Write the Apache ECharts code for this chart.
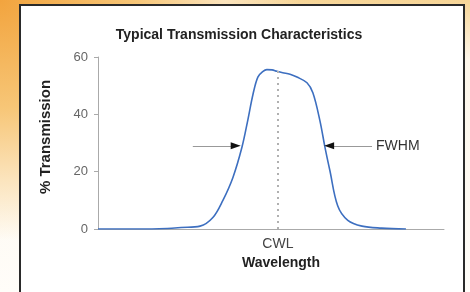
<!DOCTYPE html>
<html>
<head>
<meta charset="utf-8">
<script src="https://cdn.jsdelivr.net/npm/echarts@6/dist/echarts.min.js"></script>
<style>
  html, body { margin: 0; padding: 0; }
  body {
    width: 470px; height: 292px; overflow: hidden; position: relative;
    background:
      radial-gradient(ellipse 300px 240px at 0 0, #f2a43e 0%, #f7c677 45%, #fbe4bd 75%, rgba(255,250,242,0) 100%),
      linear-gradient(to bottom, #f7d596 0px, #fdf6ea 60px, #fffdf9 292px);
  }
  .box {
    position: absolute; left: 19px; top: 4px; width: 446px; height: 300px;
    background: #fff; border: 2px solid #2a2a2a; box-sizing: border-box;
  }
  #chart { position: absolute; left: 0; top: 0; width: 470px; height: 292px; }
</style>
</head>
<body>
<div class="box"></div>
<div id="chart"></div>
<script>
// wavelength offset from CWL (arbitrary units) and % transmission
const wavelength = [-52, -40, -32, -28, -22.5, -18.8, -15.9, -13, -10.4, -8.7, -7.2, -5.8, -4.3, -3.2, -1.7, -0.3, 1.4, 3.5, 5.5, 8.4, 10.1, 12.1, 13.6, 15, 17.3, 20.2, 24.3, 30, 37];
const transmission = [0, 0, 0.2, 0.5, 1, 4, 10, 18, 28.5, 38, 47, 53, 55, 55.6, 55.5, 55, 54.5, 54, 53, 51, 47.5, 38, 28.5, 20.5, 8, 3, 1, 0.3, 0];
const yTicks = [0, 20, 40, 60];
const cwl = 0;
const cwlPeak = 55.2;
const fwhmLevel = 29;
const leftArrow = [-24.6, -10.7];
const rightArrow = [27.2, 13.3];

const font = '"Liberation Sans", Arial, sans-serif';
const chart = echarts.init(document.getElementById('chart'));

const dotted = { color: '#b0b0b0', width: 2, type: [2, 4] };
const arrowLine = { color: '#999', width: 1, type: 'solid' };

chart.setOption({
  backgroundColor: 'transparent',
  animation: false,
  title: {
    text: 'Typical Transmission Characteristics',
    left: 234,
    textAlign: 'center',
    top: 23,
    textStyle: { fontFamily: font, fontSize: 14, fontWeight: 'bold', color: '#222' }
  },
  grid: { left: 98, right: 26, top: 57, bottom: 63 },
  xAxis: {
    type: 'value',
    min: -52,
    max: 48,
    splitLine: { show: false },
    axisLine: { onZero: false, lineStyle: { color: '#aaa', width: 1 } },
    axisTick: { show: false },
    axisLabel: {
      customValues: [cwl],
      formatter: () => 'CWL',
      margin: 8,
      fontFamily: font, fontSize: 14, color: '#444'
    },
    name: 'Wavelength',
    nameLocation: 'middle',
    nameGap: 27,
    nameTextStyle: { fontFamily: font, fontSize: 14, fontWeight: 'bold', color: '#222', padding: [0, 0, 0, 20] }
  },
  yAxis: {
    type: 'value',
    min: 0,
    max: 60,
    interval: 20,
    splitLine: { show: false },
    axisLine: { show: true, onZero: false, lineStyle: { color: '#aaa', width: 1 } },
    axisTick: { show: true, inside: false, length: 4, lineStyle: { color: '#aaa' } },
    axisLabel: {
      margin: 10,
      formatter: v => yTicks.includes(v) ? String(v) : '',
      fontFamily: font, fontSize: 13, color: '#666'
    },
    name: '% Transmission',
    nameLocation: 'middle',
    nameGap: 45,
    nameTextStyle: { fontFamily: font, fontSize: 15, fontWeight: 'bold', color: '#222', padding: [0, 0, 0, 12] }
  },
  series: [{
    type: 'line',
    data: wavelength.map((w, i) => [w, transmission[i]]),
    smooth: 0.35,
    showSymbol: false,
    lineStyle: { color: '#3d6fc0', width: 1.6 },
    markLine: {
      silent: true,
      symbol: ['none', 'none'],
      data: [
        [{ coord: [cwl, 0], lineStyle: dotted },
         { coord: [cwl, cwlPeak], lineStyle: dotted }],
        [{ coord: [leftArrow[0], fwhmLevel], lineStyle: arrowLine },
         { coord: [leftArrow[1] - 1.5, fwhmLevel], lineStyle: arrowLine }],
        [{ coord: [rightArrow[0], fwhmLevel], lineStyle: arrowLine,
           label: { show: true, position: 'start', formatter: 'FWHM', distance: 4,
                    fontFamily: font, fontSize: 14, color: '#333' } },
         { coord: [rightArrow[1] + 1.5, fwhmLevel], lineStyle: arrowLine }]
      ],
      label: { show: false }
    },
    markPoint: {
      silent: true,
      symbol: 'triangle',
      symbolSize: [7, 10],
      itemStyle: { color: '#111' },
      label: { show: false },
      data: [
        { coord: [leftArrow[1] - 1.5, fwhmLevel], symbolRotate: -90 },
        { coord: [rightArrow[1] + 1.5, fwhmLevel], symbolRotate: 90 }
      ]
    }
  }]
});
</script>
</body>
</html>
